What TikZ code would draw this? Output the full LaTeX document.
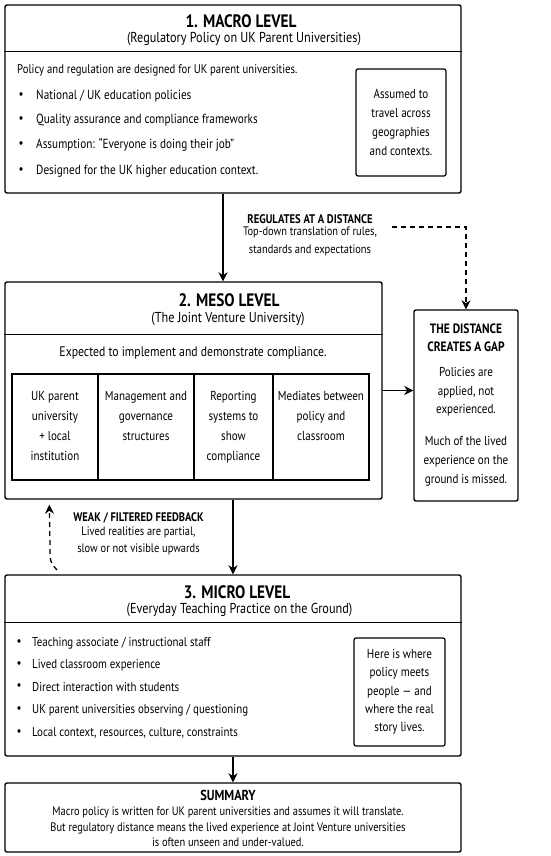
\documentclass[tikz,border=0pt]{standalone}
\usepackage{fontspec}
\setmainfont{PT Sans}[FakeStretch=0.85]
\usetikzlibrary{arrows.meta,positioning,calc}

\begin{document}
\begin{tikzpicture}[
    x=1pt, y=-1pt,
    panel/.style={rectangle, draw, line width=1.4pt, rounded corners=2pt, inner sep=0pt},
    sidebox/.style={rectangle, draw, line width=1.2pt, rounded corners=2pt, align=center, font=\fontsize{13}{19}\selectfont},
    cell/.style={rectangle, draw, line width=1.2pt, minimum height=106, outer sep=0pt},
    celltext/.style={anchor=north, align=center, inner sep=0pt, font=\fontsize{13}{20}\selectfont},
    divider/.style={line width=1.2pt},
    title/.style={font=\fontsize{18}{20}\selectfont\bfseries},
    subtitle/.style={font=\fontsize{14.4}{16}\selectfont},
    body/.style={anchor=west, inner sep=0pt, font=\fontsize{13.2}{15}\selectfont},
    dot/.style={inner sep=0pt, font=\fontsize{13}{15}\selectfont},
    label/.style={align=center, inner sep=0pt, font=\fontsize{12.3}{17}\selectfont},
    arrow/.style={-{Stealth[length=9pt,width=9pt]}, line width=1.6pt},
    gaparrow/.style={arrow, dashed, line width=1.3pt, dash pattern=on 5pt off 4pt}
]
    \useasboundingbox (0,0) rectangle (550,856);

    \node[panel, minimum width=456, minimum height=188] (macro) at (233,99) {};
    \draw[divider] ($(macro.north west)+(0,47)$) -- ($(macro.north east)+(0,47)$);
    \node[title] (macrotitle) at (241,21) {1. MACRO LEVEL};
    \node[subtitle] (macrosub) at (244,39) {(Regulatory Policy on UK Parent Universities)};
    \node[body, font=\fontsize{12.6}{15}\selectfont] (macrointro) at (17,70) {Policy and regulation are designed for UK parent universities.};
    \node[dot] at (21,96) {•};
    \node[body] (macroa) at (36,96) {National / UK education policies};
    \node[dot] at (21,120) {•};
    \node[body] (macrob) at (36,120) {Quality assurance and compliance frameworks};
    \node[dot] at (21,145) {•};
    \node[body] (macroc) at (36,145) {Assumption: “Everyone is doing their job”};
    \node[dot] at (21,171) {•};
    \node[body] (macrod) at (36,171) {Designed for the UK higher education context.};
    \node[sidebox, minimum width=90, minimum height=107] (assumed) at (401,122.5) {Assumed to\\travel across\\geographies\\and contexts.};

    \node[panel, minimum width=377, minimum height=217] (meso) at (193.5,390.5) {};
    \draw[divider] ($(meso.north west)+(0,53)$) -- ($(meso.north east)+(0,53)$);
    \node[title] (mesotitle) at (229,300) {2. MESO LEVEL};
    \node[subtitle] (mesosub) at (228,319) {(The Joint Venture University)};
    \node[body, anchor=center, font=\fontsize{13.8}{15}\selectfont] (expected) at (193,353) {Expected to implement and demonstrate compliance.};
    \node[cell, minimum width=86] (parent) at (55,427) {};
    \node[cell, minimum width=96, right=0pt of parent] (governance) {};
    \node[cell, minimum width=79, right=0pt of governance] (reporting) {};
    \node[cell, minimum width=96, right=0pt of reporting] (mediates) {};
    \node[celltext] at ($(parent.north)+(0,17)$) {UK parent\\university\\+ local\\institution};
    \node[celltext] at ($(governance.north)+(0,17)$) {Management and\\governance\\structures};
    \node[celltext] at ($(reporting.north)+(0,17)$) {Reporting\\systems to\\show\\compliance};
    \node[celltext] at ($(mediates.north)+(0,17)$) {Mediates between\\policy and\\classroom};

    \node[panel, minimum width=104, minimum height=191] (gap) at (466,405.5) {};
    \node[label, font=\fontsize{13.5}{18}\selectfont\bfseries] (gaphead) at (466,338) {THE DISTANCE\\CREATES A GAP};
    \node[label, font=\fontsize{13}{18.5}\selectfont] (gapa) at (466,392) {Policies are\\applied, not\\experienced.};
    \node[label, font=\fontsize{13}{19}\selectfont] (gapb) at (466,461) {Much of the lived\\experience on the\\ground is missed.};

    \node[panel, minimum width=456, minimum height=181] (micro) at (233,665.5) {};
    \draw[divider] ($(micro.north west)+(0,48)$) -- ($(micro.north east)+(0,48)$);
    \node[title] (microtitle) at (237,592) {3. MICRO LEVEL};
    \node[subtitle] (microsub) at (239.5,610) {(Everyday Teaching Practice on the Ground)};
    \node[dot] at (19,643) {•};
    \node[body, font=\fontsize{12.8}{15}\selectfont] (microa) at (32,643) {Teaching associate / instructional staff};
    \node[dot] at (19,665) {•};
    \node[body, font=\fontsize{12.8}{15}\selectfont] (microb) at (32,665) {Lived classroom experience};
    \node[dot] at (19,687) {•};
    \node[body, font=\fontsize{12.8}{15}\selectfont] (microc) at (32,687) {Direct interaction with students};
    \node[dot] at (19,710) {•};
    \node[body, font=\fontsize{12.8}{15}\selectfont] (microd) at (32,710) {UK parent universities observing / questioning};
    \node[dot] at (19,733) {•};
    \node[body, font=\fontsize{12.8}{15}\selectfont] (microe) at (32,733) {Local context, resources, culture, constraints};
    \node[sidebox, minimum width=91, minimum height=108, font=\fontsize{13}{18.3}\selectfont] (story) at (399.5,692) {Here is where\\policy meets\\people — and\\where the real\\story lives.};

    \node[panel, minimum width=456, minimum height=69] (summary) at (233,817.5) {};
    \node[label, font=\fontsize{14.5}{16}\selectfont\bfseries] (sumhead) at (228,795) {SUMMARY};
    \node[label, font=\fontsize{12.3}{15.5}\selectfont] (sumtext) at (228,827) {Macro policy is written for UK parent universities and assumes it will translate.\\But regulatory distance means the lived experience at Joint Venture universities\\is often unseen and under-valued.};

    \node[label, font=\fontsize{12.5}{14}\selectfont\bfseries] (regulates) at (310,219) {REGULATES AT A DISTANCE};
    \node[label, font=\fontsize{12.3}{18}\selectfont, below=3pt of regulates] (regtext) {Top-down translation of rules,\\standards and expectations};
    \node[label, font=\fontsize{12.4}{14}\selectfont\bfseries] (feedback) at (138.5,518) {WEAK / FILTERED FEEDBACK};
    \node[label, font=\fontsize{12.3}{17}\selectfont, below=3pt of feedback] (fbtext) {Lived realities are partial,\\slow or not visible upwards};

    \coordinate (regtop) at ($(macro.south)+(-10,0)$);
    \coordinate (dashstart) at (392,227);
    \coordinate (fbstart) at (57,570);
    \coordinate (fbend) at ($(meso.south west)+(45,5)$);

    \draw[arrow] (regtop) -- (regtop |- meso.north);
    \draw[arrow] (meso.east) -- (meso.east -| gap.west);
    \draw[gaparrow] (dashstart) -| (gap.north);
    \draw[arrow] (meso.south -| micro.north) -- (micro.north);
    \draw[gaparrow] (fbstart) .. controls (50,562) .. (50,545) -- (fbend);
    \draw[arrow] (micro.south) -- (summary.north);
\end{tikzpicture}
\end{document}
